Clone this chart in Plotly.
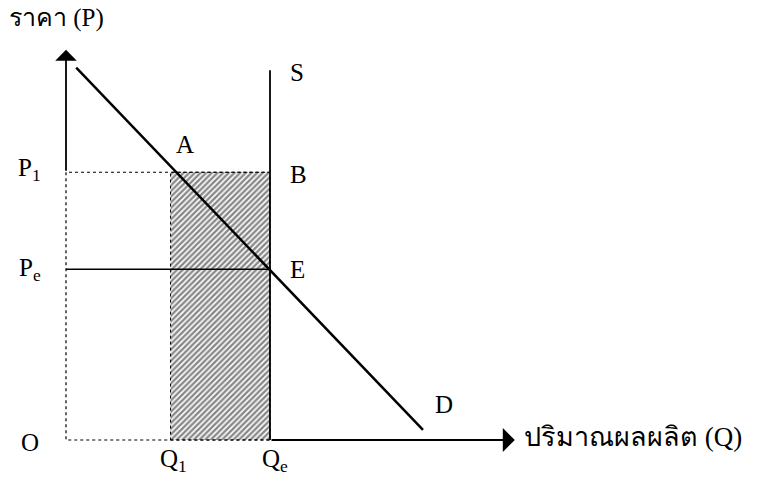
import plotly.graph_objects as go

# values (data units, O at origin)
q1, qe = 2.05, 4.0
p1, pe = 5.25, 3.35
demand_q = [0.2, 7.0]
demand_p = [7.3, 0.2]
supply_top = 7.25
y_tip, x_tip = 7.65, 8.8

FONT = "Liberation Serif, Times New Roman, serif"
BLACK = "black"

fig = go.Figure()

# hatched rectangle Q1..Qe x 0..P1
fig.add_trace(go.Scatter(
    x=[q1, qe, qe, q1, q1], y=[0, 0, p1, p1, 0], mode="lines",
    line=dict(color=BLACK, width=1, dash="dot"),
    fill="toself", fillcolor="rgba(0,0,0,0)",
    fillpattern=dict(shape="/", size=4, solidity=0.6, fgcolor="#111", bgcolor="white"),
    hoverinfo="skip"))

# dotted box O..Qe x 0..P1
fig.add_trace(go.Scatter(
    x=[qe, 0, 0, qe], y=[p1, p1, 0, 0], mode="lines",
    line=dict(color=BLACK, width=1.2, dash="dot"), hoverinfo="skip"))

# Pe price line
fig.add_trace(go.Scatter(x=[0, qe], y=[pe, pe], mode="lines",
                         line=dict(color=BLACK, width=1.5), hoverinfo="skip"))
# supply S (vertical)
fig.add_trace(go.Scatter(x=[qe, qe], y=[0, supply_top], mode="lines",
                         line=dict(color=BLACK, width=1.8), hoverinfo="skip"))
# demand D
fig.add_trace(go.Scatter(x=demand_q, y=demand_p, mode="lines",
                         line=dict(color=BLACK, width=2.5), hoverinfo="skip"))

# axes with arrows
fig.add_annotation(x=0, y=y_tip, ax=0, ay=p1, xref="x", yref="y", axref="x", ayref="y",
                   showarrow=True, arrowhead=1, arrowsize=2, arrowwidth=1.8,
                   arrowcolor=BLACK, text="")
fig.add_annotation(x=x_tip, y=0, ax=qe, ay=0, xref="x", yref="y", axref="x", ayref="y",
                   showarrow=True, arrowhead=1, arrowsize=2, arrowwidth=2,
                   arrowcolor=BLACK, text="")

labels = [
    ("ราคา (P)", -1.15, 8.28, "left", 25),
    ("ปริมาณผลผลิต (Q)", 8.95, 0.05, "left", 27),
    ("S", 4.35, 7.2, "left", 25),
    ("A", 2.12, 5.8, "left", 25),
    ("B", 4.35, 5.2, "left", 25),
    ("E", 4.35, 3.35, "left", 25),
    ("D", 7.2, 0.7, "left", 25),
    ("P<sub>1</sub>", -0.45, 5.3, "right", 25),
    ("P<sub>e</sub>", -0.45, 3.35, "right", 25),
    ("O", -0.5, -0.05, "right", 25),
    ("Q<sub>1</sub>", 2.1, -0.4, "center", 25),
    ("Q<sub>e</sub>", 4.1, -0.4, "center", 25),
]
for txt, x, y, anchor, size in labels:
    fig.add_annotation(x=x, y=y, text=txt, showarrow=False, xanchor=anchor,
                       yanchor="middle", font=dict(family=FONT, size=size, color=BLACK))

px_per_unit = 51
ox, oy = 66, 440  # origin in pixels
W, H = 770, 477
fig.update_layout(
    width=W, height=H, margin=dict(l=0, r=0, t=0, b=0),
    paper_bgcolor="white", plot_bgcolor="white", showlegend=False,
    xaxis=dict(range=[-ox / px_per_unit, (W - ox) / px_per_unit], visible=False),
    yaxis=dict(range=[-(H - oy) / px_per_unit, oy / px_per_unit], visible=False),
)

# drop the default body margin so the figure sits at the page corner
fig.write_html("out.html", config={"displayModeBar": False},
               post_script="document.body.style.margin='0';")
